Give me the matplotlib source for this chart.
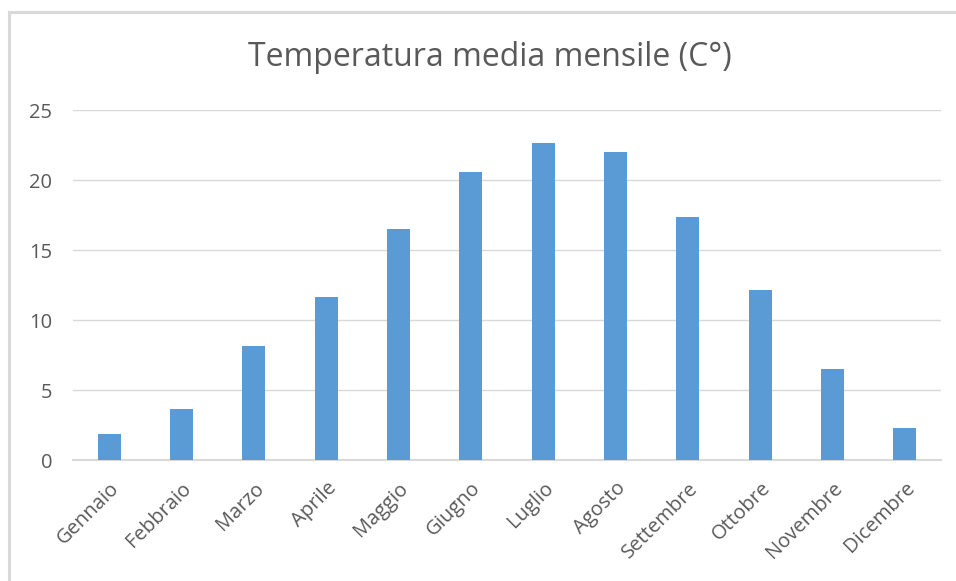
import matplotlib.pyplot as plt
from matplotlib.lines import Line2D

# temperature medie mensili (°C)
mesi = ["Gennaio", "Febbraio", "Marzo", "Aprile", "Maggio", "Giugno",
        "Luglio", "Agosto", "Settembre", "Ottobre", "Novembre", "Dicembre"]
temperature = [1.9, 3.7, 8.2, 11.7, 16.5, 20.6, 22.7, 22.0, 17.4, 12.2, 6.5, 2.3]
y_ticks = [0, 5, 10, 15, 20, 25]

plt.rcParams['font.family'] = ['Open Sans', 'DejaVu Sans']
grigio_testo = '#595959'
grigio_linee = '#D9D9D9'

W, H = 956, 581
fig = plt.figure(figsize=(W / 100, H / 100), dpi=100)
ax = fig.add_axes([73 / W, 1 - 460.3 / H, (941 - 73) / W, (460.3 - 110.3) / H])

x = range(len(mesi))
ax.bar(x, temperature, width=0.32, color='#5B9BD5', zorder=3)

ax.set_xlim(-0.5, len(mesi) - 0.5)
ax.set_ylim(0, 25)
ax.set_yticks(y_ticks)
ax.set_xticks(list(x))
ax.set_xticklabels(mesi, rotation=45, ha='right', rotation_mode='anchor',
                   fontsize=14.5, color=grigio_testo)
ax.tick_params(axis='y', length=0, pad=15, labelsize=14.5, labelcolor=grigio_testo)
ax.tick_params(axis='x', length=0, pad=13)

ax.grid(axis='y', color=grigio_linee, linewidth=1, zorder=0)
for lato in ['top', 'right', 'left']:
    ax.spines[lato].set_visible(False)
ax.spines['bottom'].set_color(grigio_linee)
ax.spines['bottom'].set_linewidth(1.5)

fig.text(490 / W, 1 - 58 / H, "Temperatura media mensile (C°)", ha='center',
         va='center', fontsize=23, color=grigio_testo)

# bordo del grafico
fig.add_artist(Line2D([9 / W, 9 / W], [0, 1 - 12 / H], color=grigio_linee, lw=2.2))
fig.add_artist(Line2D([9 / W, 1], [1 - 12 / H, 1 - 12 / H], color=grigio_linee, lw=2.2))

fig.savefig("out.png", dpi=100, facecolor='white')
